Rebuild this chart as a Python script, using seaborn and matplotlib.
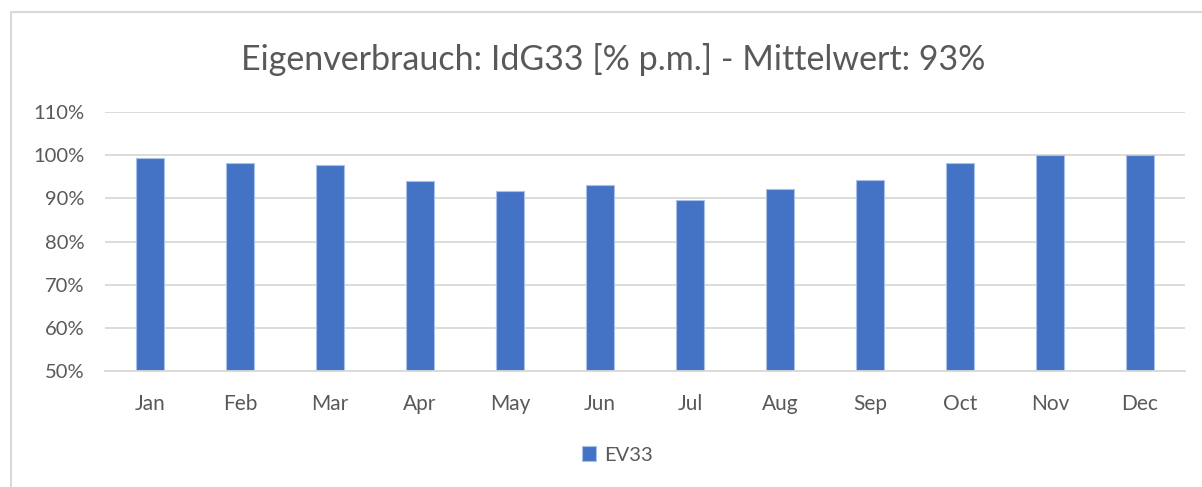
import seaborn as sns
import pandas as pd
import matplotlib.pyplot as plt
from matplotlib.patches import Rectangle
from matplotlib.ticker import FuncFormatter

# Data
months = ['Jan', 'Feb', 'Mar', 'Apr', 'May', 'Jun', 'Jul', 'Aug', 'Sep', 'Oct', 'Nov', 'Dec']
ev33 = [99.3, 98.3, 97.7, 94.0, 91.8, 93.2, 89.7, 92.2, 94.3, 98.2, 100.0, 100.0]
yticks = [50, 60, 70, 80, 90, 100, 110]

df = pd.DataFrame({'Monat': months, 'EV33': ev33})

sns.set_style('white')
plt.rcParams['font.family'] = ['Lato', 'DejaVu Sans']

text_col = '#595959'
bar_col = '#4472C4'

fig = plt.figure(figsize=(12.02, 4.87), dpi=100)
ax = fig.add_axes([105 / 1202, 1 - 371 / 487, 1080 / 1202, 259 / 487])

sns.barplot(data=df, x='Monat', y='EV33', color=bar_col, saturation=1, width=0.31,
            edgecolor='#A9C0E8', linewidth=0.8, label='EV33', ax=ax)

ax.set_ylim(50, 110)
ax.set_yticks(yticks)
ax.yaxis.set_major_formatter(FuncFormatter(lambda v, p: f'{v:.0f}%'))
ax.grid(axis='y', color='#D9D9D9', linewidth=1.3)
ax.set_axisbelow(True)
for s in ['top', 'right', 'left']:
    ax.spines[s].set_visible(False)
ax.spines['bottom'].set_color('#D9D9D9')
ax.spines['bottom'].set_linewidth(1.3)
ax.tick_params(axis='both', length=0, colors=text_col, labelsize=14.5)
ax.tick_params(axis='y', pad=15)
ax.tick_params(axis='x', pad=16.5, labelsize=15)
ax.set_xlabel('')
ax.set_ylabel('')

fig.text(613 / 1202, 1 - 60 / 487, 'Eigenverbrauch: IdG33 [% p.m.] - Mittelwert: 93%',
         ha='center', va='center', fontsize=24.5, color=text_col)

leg = ax.legend(loc='center', bbox_to_anchor=(617 / 1202, 1 - 455 / 487),
                bbox_transform=fig.transFigure, frameon=False, fontsize=14.5,
                handlelength=0.7, handleheight=0.7, handletextpad=0.4)
for t in leg.get_texts():
    t.set_color(text_col)

# chart area border
fig.patches.append(Rectangle((11 / 1202, -0.1), 1.2, 1.1 - 12 / 487, transform=fig.transFigure,
                             fill=False, edgecolor='#D9D9D9', linewidth=1.5))

fig.savefig('out.png', dpi=100)
